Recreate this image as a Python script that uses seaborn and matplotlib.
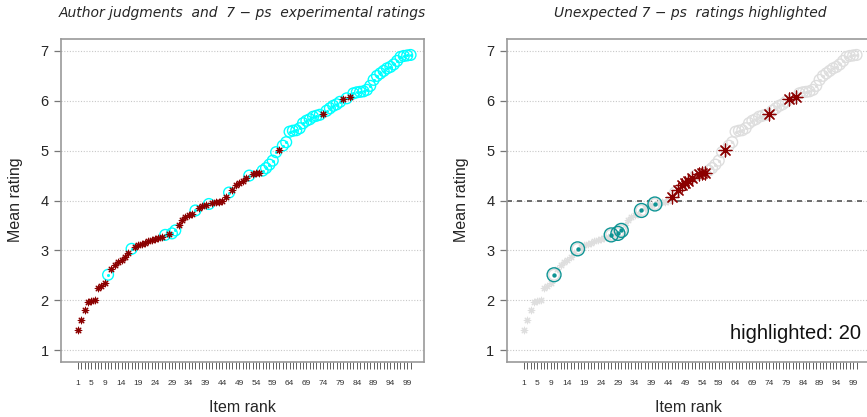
import numpy as np
import pandas as pd
import matplotlib
matplotlib.use("Agg")
import matplotlib.pyplot as plt
import seaborn as sns

# ------------------------------------------------------------
# DATA
# ------------------------------------------------------------
item_rank = list(range(1, 101))

mean_rating = [
    1.40, 1.60, 1.80, 1.97, 1.99, 2.01, 2.25, 2.28, 2.35, 2.51,
    2.62, 2.70, 2.76, 2.81, 2.87, 2.94, 3.03, 3.07, 3.10, 3.12,
    3.15, 3.18, 3.20, 3.22, 3.24, 3.26, 3.31, 3.32, 3.34, 3.40,
    3.50, 3.60, 3.67, 3.70, 3.73, 3.80, 3.85, 3.88, 3.90, 3.93,
    3.95, 3.96, 3.97, 3.99, 4.08, 4.16, 4.21, 4.31, 4.35, 4.40,
    4.45, 4.50, 4.53, 4.55, 4.56, 4.60, 4.65, 4.72, 4.80, 4.97,
    5.02, 5.10, 5.17, 5.38, 5.40, 5.41, 5.45, 5.55, 5.60, 5.63,
    5.68, 5.70, 5.72, 5.74, 5.80, 5.85, 5.90, 5.93, 5.98, 6.03,
    6.05, 6.08, 6.15, 6.17, 6.18, 6.19, 6.22, 6.30, 6.42, 6.50,
    6.55, 6.60, 6.65, 6.68, 6.73, 6.80, 6.88, 6.90, 6.91, 6.92,
]

# items the author judged as unacceptable (drawn as asterisks)
star_ranks = (
    list(range(1, 10)) + list(range(11, 17)) + list(range(18, 27)) + [28]
    + list(range(31, 36)) + [37, 38, 39] + [41, 42, 43, 44, 45]
    + [47, 48, 49, 50, 51] + [53, 54, 55] + [61, 74, 80, 82]
)

tick_labels = [1, 5, 9] + list(range(14, 100, 5))
threshold = 4

df = pd.DataFrame({"rank": item_rank, "rating": mean_rating})
df["star"] = df["rank"].isin(star_ranks)
df["unexpected"] = (df["star"] & (df["rating"] > threshold)) | \
                   (~df["star"] & (df["rating"] < threshold))
n_high = int(df["unexpected"].sum())

# ------------------------------------------------------------
# STYLE
# ------------------------------------------------------------
sns.set_style("white")
plt.rcParams["font.family"] = ["Liberation Sans", "DejaVu Sans"]

DARKRED = "#8B0000"
CYAN = "#00FFFF"
TEAL = "#0e9494"
LIGHT = "#dedede"
STAR = (8, 2, 0)

fig = plt.figure(figsize=(8.67, 4.17), dpi=100)
ax1 = fig.add_axes([61 / 867, 55 / 417, 363 / 867, 323 / 417])
ax2 = fig.add_axes([507 / 867, 55 / 417, 363 / 867, 323 / 417])


def style_axes(ax):
    ax.set_xlim(-4, 104)
    ax.set_ylim(0.76, 7.24)
    for y in range(1, 8):
        ax.axhline(y, color="#c8c8c8", lw=0.8, ls=(0, (1, 1.5)), zorder=0)
    ax.set_yticks(range(1, 8))
    ax.set_xticks(item_rank)
    ax.set_xticklabels([str(r) if r in tick_labels else "" for r in item_rank])
    ax.tick_params(axis="x", bottom=True, length=4.8, width=0.6, color="#444444",
                   pad=8.5, labelsize=6, labelcolor="#333333")
    ax.tick_params(axis="y", left=True, length=5, width=0.9, color="#777777",
                   pad=4, labelsize=10.5)
    for s in ax.spines.values():
        s.set_color("#999999")
        s.set_linewidth(1.2)
    ax.set_xlabel("")
    ax.set_ylabel("")


def circles(ax, data, color, s_ring, s_dot, lw=1.0):
    sns.scatterplot(data=data, x="rank", y="rating", marker="o", s=s_ring,
                    color=color, facecolor="none", edgecolor=color,
                    linewidth=lw, legend=False, ax=ax, zorder=3)
    sns.scatterplot(data=data, x="rank", y="rating", marker="o", s=s_dot,
                    color=color, linewidth=0, legend=False, ax=ax, zorder=3)


stars = df[df["star"]]
rings = df[~df["star"]]

# ------------------------------------------------------------
# LEFT PANEL: author judgments vs experimental ratings
# ------------------------------------------------------------
circles(ax1, rings, CYAN, 60, 5)
sns.scatterplot(data=stars, x="rank", y="rating", marker=STAR, s=22,
                color=DARKRED, linewidth=0.8, legend=False, ax=ax1, zorder=4)
style_axes(ax1)

# ------------------------------------------------------------
# RIGHT PANEL: unexpected ratings highlighted
# ------------------------------------------------------------
circles(ax2, rings, LIGHT, 60, 5)
sns.scatterplot(data=stars, x="rank", y="rating", marker=STAR, s=22,
                color=LIGHT, linewidth=0.8, legend=False, ax=ax2, zorder=3)
ax2.axhline(threshold, color="#555555", lw=1.2, ls=(0, (3, 3)), zorder=2)

hi = df[df["unexpected"]]
circles(ax2, hi[~hi["star"]], TEAL, 100, 10)
sns.scatterplot(data=hi[hi["star"]], x="rank", y="rating", marker=STAR, s=85,
                color=DARKRED, linewidth=0.9, legend=False, ax=ax2, zorder=4)
ax2.text(101.4, 1.34, f"highlighted: {n_high}", ha="right", va="center",
         fontsize=14.5, color="#111111")
style_axes(ax2)

# ------------------------------------------------------------
# LABELS AND TITLES
# ------------------------------------------------------------
for cx in (242.5, 688.5):
    fig.text(cx / 867, 4.5 / 417, "Item rank", ha="center", va="baseline", fontsize=11.5)
for lx in (16, 462):
    fig.text(lx / 867, 0.52, "Mean rating", ha="center", va="center",
             rotation=90, fontsize=11.5)

fig.text(242 / 867, 400 / 417, "Author judgments  and  7 \u2212 ps  experimental ratings",
         ha="center", va="baseline", fontsize=10, style="italic", family="DejaVu Sans")
fig.text(690 / 867, 400 / 417, "Unexpected 7 \u2212 ps  ratings highlighted",
         ha="center", va="baseline", fontsize=10, style="italic", family="DejaVu Sans")

plt.savefig("out.png", dpi=100)
